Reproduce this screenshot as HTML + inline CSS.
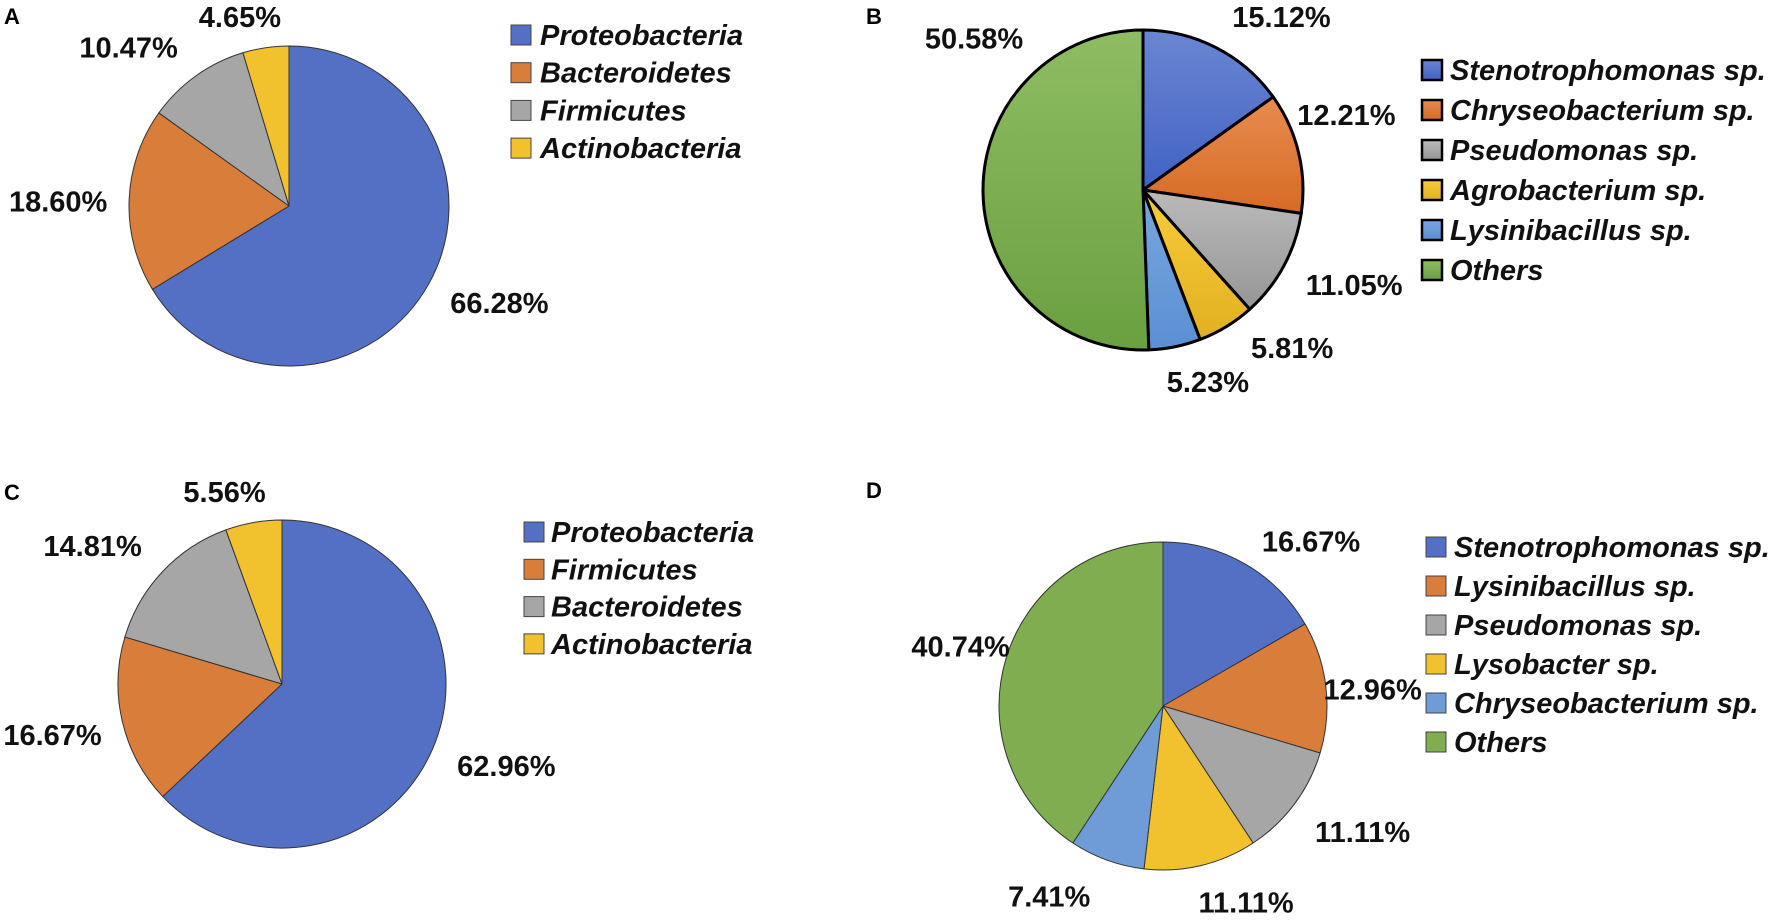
<!DOCTYPE html>
<html><head><meta charset="utf-8">
<style>
body{margin:0;background:#fff;width:1772px;height:918px;overflow:hidden;font-family:"Liberation Sans",sans-serif;}
svg text{font-family:"Liberation Sans",sans-serif;font-weight:bold;}
</style></head>
<body>
<svg id="chart" width="1772" height="918" xmlns="http://www.w3.org/2000/svg">
<defs>
<linearGradient id="gB0" x1="0" y1="0" x2="0" y2="1"><stop offset="0" stop-color="#6a86d2"/><stop offset="1" stop-color="#4262c4"/></linearGradient>
<linearGradient id="gB1" x1="0" y1="0" x2="0" y2="1"><stop offset="0" stop-color="#e88c50"/><stop offset="1" stop-color="#d66a24"/></linearGradient>
<linearGradient id="gB2" x1="0" y1="0" x2="0" y2="1"><stop offset="0" stop-color="#bababa"/><stop offset="1" stop-color="#969696"/></linearGradient>
<linearGradient id="gB3" x1="0" y1="0" x2="0" y2="1"><stop offset="0" stop-color="#f7cc3a"/><stop offset="1" stop-color="#e2b020"/></linearGradient>
<linearGradient id="gB4" x1="0" y1="0" x2="0" y2="1"><stop offset="0" stop-color="#7aa6e0"/><stop offset="1" stop-color="#5a8fd4"/></linearGradient>
<linearGradient id="gB5" x1="0" y1="0" x2="0" y2="1"><stop offset="0" stop-color="#8fbc63"/><stop offset="1" stop-color="#6aa040"/></linearGradient>
</defs>
</svg>
<script>
const catsA=["Proteobacteria","Bacteroidetes","Firmicutes","Actinobacteria"];
const valsA=[66.28,18.60,10.47,4.65];
const catsB=["Stenotrophomonas sp.","Chryseobacterium sp.","Pseudomonas sp.","Agrobacterium sp.","Lysinibacillus sp.","Others"];
const valsB=[15.12,12.21,11.05,5.81,5.23,50.58];
const catsC=["Proteobacteria","Firmicutes","Bacteroidetes","Actinobacteria"];
const valsC=[62.96,16.67,14.81,5.56];
const catsD=["Stenotrophomonas sp.","Lysinibacillus sp.","Pseudomonas sp.","Lysobacter sp.","Chryseobacterium sp.","Others"];
const valsD=[16.67,12.96,11.11,11.11,7.41,40.74];

const NS="http://www.w3.org/2000/svg";
const svg=document.getElementById('chart');
const colsA=["#5470c4","#d97d3a","#a6a6a6","#f2c12e"];
const colsD=["#5470c4","#d97d3a","#a6a6a6","#f2c12e","#6f9bd6","#80ad50"];
const colsB=["url(#gB0)","url(#gB1)","url(#gB2)","url(#gB3)","url(#gB4)","url(#gB5)"];
function el(t,a){const e=document.createElementNS(NS,t);for(const k in a)e.setAttribute(k,a[k]);svg.appendChild(e);return e;}
function pie(id,cx,cy,r,vals,cats,cols,sw,lblAdj,legX,txtX,legY,legGap,letter,lx,ly){
  const tot=vals.reduce((a,b)=>a+b,0);let a0=-Math.PI/2;const R=r+40;
  vals.forEach((v,i)=>{
    const a1=a0+v/tot*2*Math.PI;
    const x0=cx+r*Math.cos(a0),y0=cy+r*Math.sin(a0),x1=cx+r*Math.cos(a1),y1=cy+r*Math.sin(a1);
    const large=(a1-a0)>Math.PI?1:0;
    const p=el('path',{d:`M${cx},${cy}L${x0},${y0}A${r},${r} 0 ${large} 1 ${x1},${y1}Z`,fill:cols[i],stroke:sw>1?'#000':'#333','stroke-width':sw,'stroke-linejoin':'round'});
    
    
    const am=(a0+a1)/2;const adj=lblAdj[i]||[0,0];
    const tx=cx+R*Math.cos(am)+adj[0],ty=cy+R*Math.sin(am)+adj[1];
    const t=el('text',{x:tx,y:ty+10,'text-anchor':'middle','font-size':29,fill:'#111'});
    t.textContent=v.toFixed(2)+'%';
    
    
    a0=a1;
  });
  cats.forEach((c,i)=>{
    const y=legY+i*legGap;
    const s=el('rect',{x:legX,y:y-10,width:20,height:20,fill:cols[i],stroke:sw>1?'#000':'#444','stroke-width':sw>1?2.5:1});
    
    
    const t=el('text',{x:txtX,y:y+10,'font-size':29,'font-style':'italic',fill:'#111'});
    t.textContent=c;
    
    
  });
  const L=el('text',{x:lx,y:ly,'font-size':22,fill:'#000'});L.textContent=letter;
  
  
}
pie('pie-a',289,206,160,valsA,catsA,colsA,1,[[36,-1],[-31,3],[-44,4],[-20,9]],511,540,35,37.7,'A',4,24);
pie('pie-b',1143,190,160,valsB,catsB,colsB,3,[[47,5],[9,-28],[35,0],[45,-13],[25,-4],[31,-155]],1422,1450,70,40,'B',866,24);
pie('pie-c',282,684,164,valsC,catsC,colsA,1,[[37,1],[-31,4],[-41,2],[-22,9]],524,551,532,37.3,'C',4,500);
pie('pie-d',1163,706,164,valsD,catsD,colsD,1,[[46,12],[7,7],[36,4],[36,-2],[-44,-1],[-7,-1]],1426,1454,547,39,'D',866,498);
</script>
</body></html>
